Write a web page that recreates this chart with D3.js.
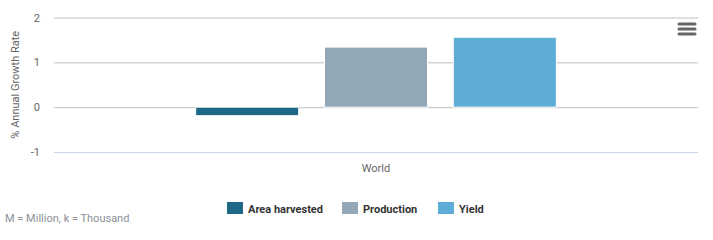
<!DOCTYPE html>
<html>
<head>
<meta charset="utf-8">
<script src="https://cdn.jsdelivr.net/npm/d3@7"></script>
<style>
  body { margin: 0; background: #fff; }
  svg { display: block; font-family: Roboto, "Open Sans", sans-serif; }
</style>
</head>
<body>
<svg id="chart" width="713" height="240"></svg>
<script>
// data
const categories = ["World"];
const seriesNames = ["Area harvested", "Production", "Yield"];
const seriesColors = ["#1f6787", "#93a8b6", "#5dadd5"];
const seriesValues = [-0.19, 1.34, 1.56];
const yTicks = [-1, 0, 1, 2];
const creditText = "M = Million, k = Thousand";
const yTitle = "% Annual Growth Rate";

const width = 713, height = 240;
const margin = { top: 17.5, right: 15, bottom: 88, left: 54 };

const svg = d3.select("#chart");

const y = d3.scaleLinear()
    .domain([-1, 2])
    .range([height - margin.bottom, margin.top]);

const x = d3.scaleBand()
    .domain(categories)
    .range([margin.left, width - margin.right])
    .paddingInner(0)
    .paddingOuter(0);

// group padding 0.2 on each side, like the original
const groupPad = x.bandwidth() * 0.2;
const xs = d3.scaleBand()
    .domain(seriesNames)
    .range([groupPad, x.bandwidth() - groupPad])
    .paddingInner(0.2)
    .paddingOuter(0.1);

// gridlines
const gy = svg.append("g")
    .attr("transform", `translate(${margin.left},0)`)
    .call(d3.axisLeft(y).tickValues(yTicks).tickSize(-(width - margin.left - margin.right)).tickFormat(d => String(d)));
gy.select(".domain").remove();
gy.selectAll(".tick line")
    .attr("stroke", d => d === -1 ? "#ccd6eb" : "#c0c0c0")
    .attr("stroke-width", 1);
gy.selectAll(".tick text")
    .attr("x", -14)
    .attr("fill", "#666")
    .style("font-size", "11px")
    .style("font-family", "Roboto");

// bars
svg.append("g")
  .selectAll("rect")
  .data(seriesNames)
  .join("rect")
    .attr("x", d => x(categories[0]) + xs(d))
    .attr("width", xs.bandwidth())
    .attr("y", (d, i) => y(Math.max(0, seriesValues[i])))
    .attr("height", (d, i) => Math.abs(y(seriesValues[i]) - y(0)))
    .attr("fill", (d, i) => seriesColors[i])
    .attr("stroke", "#fff")
    .attr("stroke-width", 1);

// x axis label
svg.append("g")
  .selectAll("text")
  .data(categories)
  .join("text")
    .attr("x", d => x(d) + x.bandwidth() / 2)
    .attr("y", 172)
    .attr("text-anchor", "middle")
    .attr("fill", "#666")
    .style("font-size", "11px")
    .text(d => d);

// y title
svg.append("text")
    .attr("transform", `translate(19,${(y(2) + y(-1)) / 2}) rotate(-90)`)
    .attr("text-anchor", "middle")
    .attr("fill", "#666")
    .style("font-size", "11px")
    .text(yTitle);

// legend
const legendX = [227, 342, 438];
const lg = svg.append("g")
  .selectAll("g")
  .data(seriesNames)
  .join("g")
    .attr("transform", (d, i) => `translate(${legendX[i]},202)`);
lg.append("rect")
    .attr("width", 16)
    .attr("height", 12)
    .attr("fill", (d, i) => seriesColors[i]);
lg.append("text")
    .attr("x", 21)
    .attr("y", 11)
    .attr("fill", "#333")
    .style("font-size", "11px")
    .style("font-weight", "bold")
    .text(d => d);

// credits
svg.append("text")
    .attr("x", 5)
    .attr("y", 222)
    .attr("fill", "#8a9199")
    .style("font-size", "11px")
    .text(creditText);

// menu icon
svg.append("g")
  .selectAll("line")
  .data([24, 29, 34])
  .join("line")
    .attr("x1", 679).attr("x2", 695)
    .attr("y1", d => d).attr("y2", d => d)
    .attr("stroke", "#666")
    .attr("stroke-width", 3)
    .attr("stroke-linecap", "round");
</script>
</body>
</html>
